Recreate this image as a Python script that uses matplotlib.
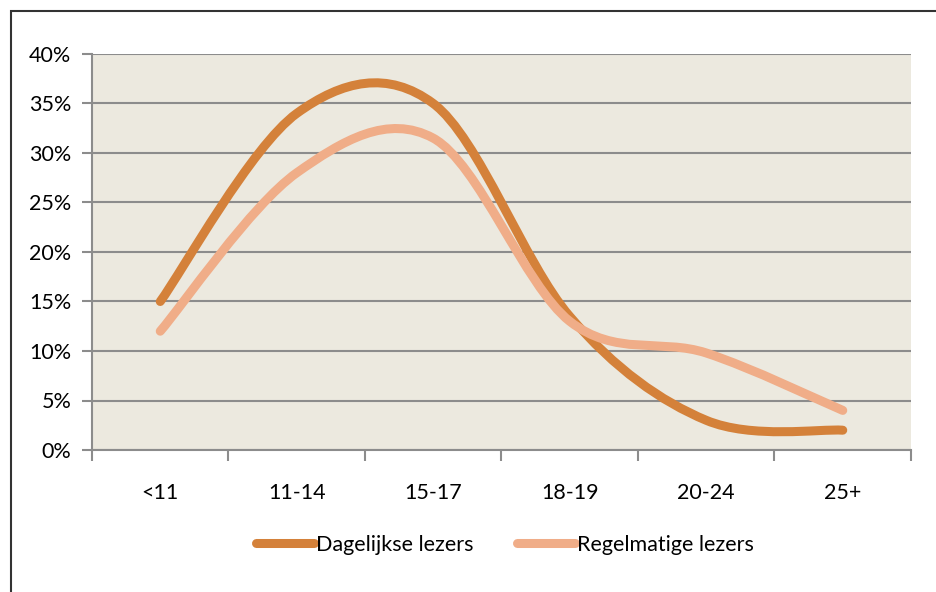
import numpy as np
import matplotlib
matplotlib.use("Agg")
import matplotlib.pyplot as plt
from matplotlib.path import Path
from matplotlib.patches import PathPatch, Rectangle
from matplotlib.lines import Line2D

plt.rcParams['font.family'] = ['Lato', 'DejaVu Sans']

categories = ['<11', '11-14', '15-17', '18-19', '20-24', '25+']
dagelijks = [15, 34, 35, 13.5, 3, 2]
regelmatig = [12, 28, 31.5, 13, 9.8, 4]

dark = '#D4813A'
light = '#F0AD88'
grid_col = '#8C8C8C'


def smooth_path(xs, ys):
    # bezier curve through the points, like Excel's "smoothed line"
    pts = np.column_stack([xs, ys]).astype(float)
    n = len(pts)
    verts = [pts[0]]
    codes = [Path.MOVETO]
    for i in range(n - 1):
        p0 = pts[i - 1] if i > 0 else pts[i]
        p1 = pts[i]
        p2 = pts[i + 1]
        p3 = pts[i + 2] if i + 2 < n else pts[i + 1]
        c1 = p1 + (p2 - p0) / 6
        c2 = p2 - (p3 - p1) / 6
        verts += [c1, c2, p2]
        codes += [Path.CURVE4] * 3
    return Path(verts, codes)


fig = plt.figure(figsize=(9.37, 5.92), dpi=100)
ax = fig.add_axes([92 / 937, 1 - 450 / 592, (911 - 92) / 937, (450 - 54) / 592])
ax.set_facecolor('#ECE9DF')

x = np.arange(len(categories))
for vals, col in [(dagelijks, dark), (regelmatig, light)]:
    ax.add_patch(PathPatch(smooth_path(x, vals), facecolor='none', edgecolor=col,
                           lw=6.5, capstyle='round', joinstyle='round', zorder=3))

ax.set_xlim(-0.5, len(categories) - 0.5)
ax.set_ylim(0, 40)
ax.set_yticks(range(0, 41, 5))
ax.set_yticklabels([f'{v}%' for v in range(0, 41, 5)])
ax.yaxis.grid(True, color=grid_col, lw=1.5)
ax.set_axisbelow(True)

ax.set_xticks(np.arange(-0.5, len(categories), 1))
ax.set_xticklabels([])
ax.set_xticks(x, minor=True)
ax.set_xticklabels(categories, minor=True)
ax.tick_params(axis='x', which='minor', length=0, pad=24, labelsize=15.5)
ax.tick_params(axis='x', which='major', length=8, width=1.5, color=grid_col)
ax.tick_params(axis='y', length=7, width=1.5, color=grid_col, pad=8, labelsize=15.5)

for s in ['top', 'right']:
    ax.spines[s].set_visible(False)
for s in ['left', 'bottom']:
    ax.spines[s].set_color(grid_col)
    ax.spines[s].set_linewidth(1.5)

handles = [Line2D([], [], color=dark, lw=6.5, solid_capstyle='round'),
           Line2D([], [], color=light, lw=6.5, solid_capstyle='round')]
fig.legend(handles, ['Dagelijkse lezers', 'Regelmatige lezers'], loc='center',
           bbox_to_anchor=(505 / 937, 1 - 545 / 592), ncol=2, frameon=False,
           fontsize=15.5, handlelength=2.7, handletextpad=0.1, columnspacing=2.0)

# outer chart border (cut off at right and bottom in the original)
fig.patches.append(Rectangle((11 / 937, -0.1), 1.2, 1 - 11 / 592 + 0.1,
                             transform=fig.transFigure, fill=False,
                             edgecolor='#333333', lw=1.5))

fig.savefig('out.png', dpi=100)
